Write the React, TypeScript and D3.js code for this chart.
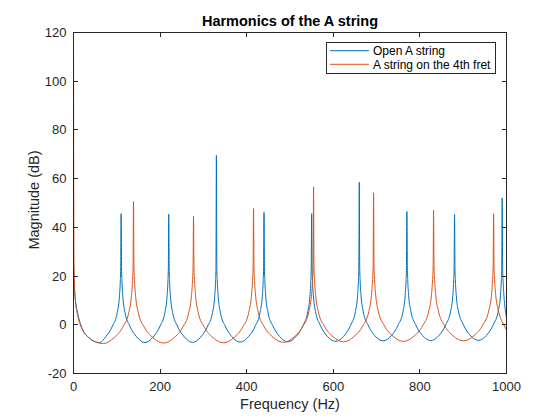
import React from 'react';
import * as d3 from 'd3';

// [frequency (Hz), magnitude (dB)]
const openString: [number, number][] = [
  [0, 25], [1, 18], [4, 11], [10, 4.5], [19, -1], [35, -5.2], [61, -7.3],
  [74, -5], [90, -0.5], [101, 5], [106, 11.5], [108, 17.5], [109, 23], [110, 45.6],
  [111, 23], [112, 17.5], [114, 11.5], [119, 5], [130, -0.5], [146, -5], [165, -7.3],
  [184, -5], [200, -0.5], [211, 5], [216, 11.5], [218, 17.5], [219, 23], [220, 45.4],
  [221, 23], [222, 17.5], [224, 11.5], [229, 5], [240, -0.5], [256, -5], [275, -7.2],
  [294, -5], [310, -0.5], [321, 5], [326, 11.5], [328, 17.5], [329, 23], [330, 69.6],
  [331, 23.5], [332, 18], [334, 12], [339, 5.2], [350, -0.4], [366, -4.9], [385, -7.1],
  [404, -4.9], [420, -0.4], [431, 5.2], [436, 11.6], [438, 17.6], [439, 23], [440, 46.1],
  [441, 23], [442, 17.6], [444, 11.6], [449, 5.2], [460, -0.3], [476, -4.8], [495, -7.0],
  [514, -4.8], [530, -0.3], [541, 5.3], [546, 11.7], [548, 17.7], [549, 23.2], [550, 45.6],
  [551, 23.5], [552, 18], [554, 12], [559, 5.4], [570, -0.2], [586, -4.7], [605, -6.8],
  [624, -4.7], [640, -0.2], [651, 5.4], [656, 11.8], [658, 17.8], [659, 23.5], [660, 58.5],
  [661, 23.5], [662, 18], [664, 12], [669, 5.5], [680, 0], [696, -4.5], [715, -6.6],
  [734, -4.5], [750, 0], [761, 5.5], [766, 12], [768, 18], [769, 23.5], [770, 46.5],
  [771, 23.5], [772, 18], [774, 12], [779, 5.6], [790, 0.1], [806, -4.4], [825, -6.5],
  [844, -4.4], [860, 0.1], [871, 5.6], [876, 12], [878, 18], [879, 23.5], [880, 45.3],
  [881, 23.5], [882, 18], [884, 12], [889, 5.7], [900, 0.2], [916, -4.3], [935, -6.4],
  [954, -4.3], [970, 0.2], [981, 5.7], [986, 12], [988, 18], [989, 23.5], [990, 52.1],
  [991, 24], [992, 18.5], [994, 12.2], [1000, 3],
];

const frettedString: [number, number][] = [
  [0, 119], [0.5, 60], [1, 28], [2, 19], [4, 10.5], [10, 3.5], [19, -1.5], [35, -5.3], [50, -7.0], [69.3, -7.7],
  [93.6, -5.3], [113.6, -1], [127.6, 5], [133.6, 11.5], [136.1, 17.5], [137.6, 24], [138.6, 50.6],
  [139.6, 24], [141.1, 17.5], [143.6, 11.5], [149.6, 5], [163.6, -1], [183.6, -5.3], [207.9, -7.5],
  [232.2, -5.3], [252.2, -1], [266.2, 5], [272.2, 11.5], [274.7, 17.5], [276.2, 24], [277.2, 44.6],
  [278.2, 24], [279.7, 17.5], [282.2, 11.5], [288.2, 5], [302.2, -1], [322.2, -5.3], [346.5, -7.4],
  [370.8, -5.2], [390.8, -0.9], [404.8, 5.1], [410.8, 11.6], [413.3, 17.6], [414.8, 24], [415.8, 47.7],
  [416.8, 24], [418.3, 17.6], [420.8, 11.6], [426.8, 5.1], [440.8, -0.9], [460.8, -5.1], [485.1, -7.2],
  [509.4, -5.0], [529.4, -0.7], [543.4, 5.3], [549.4, 11.7], [551.9, 17.7], [553.4, 24], [554.4, 56.6],
  [555.4, 24.2], [556.9, 17.8], [559.4, 11.8], [565.4, 5.4], [579.4, -0.6], [599.4, -4.9], [623.7, -7.0],
  [648, -4.8], [668, -0.5], [682, 5.5], [688, 12], [690.5, 18], [692, 24.2], [693, 54.2],
  [694, 24.2], [695.5, 18], [698, 12], [704, 5.6], [718, -0.4], [738, -4.7], [762.3, -6.8],
  [786.6, -4.6], [806.6, -0.3], [820.6, 5.7], [826.6, 12], [829.1, 18], [830.6, 24.3], [831.6, 47.0],
  [832.6, 24.3], [834.1, 18], [836.6, 12], [842.6, 5.8], [856.6, -0.2], [876.6, -4.5], [900.9, -6.6],
  [925.2, -4.4], [945.2, -0.1], [959.2, 5.9], [965.2, 12.1], [967.7, 18], [969.2, 24.4], [970.2, 45.6],
  [971.2, 24.4], [972.7, 18], [975.2, 12.1], [981.2, 5.9], [995.2, -0.5], [1000, -2.2],
];

const xTicks = [0, 200, 400, 600, 800, 1000];
const yTicks = [-20, 0, 20, 40, 60, 80, 100, 120];
const seriesNames = ['Open A string', 'A string on the 4th fret'];
const seriesColors = ['#0072BD', '#D95319'];

const App: React.FC = () => {
  const width = 560;
  const height = 420;
  const plot = { left: 73.5, right: 506.5, top: 32.5, bottom: 373.5 };
  const font = '"Liberation Sans", Arial, Helvetica, sans-serif';
  const axisColor = '#262626';
  const tickLen = 4.5;

  const x = d3.scaleLinear().domain([0, 1000]).range([plot.left, plot.right]);
  const y = d3.scaleLinear().domain([-20, 120]).range([plot.bottom, plot.top]);

  const line = d3.line<[number, number]>()
    .x(d => x(d[0]))
    .y(d => y(d[1]))
    .curve(d3.curveMonotoneX);

  const series = [openString, frettedString];

  // legend box
  const lg = { x: 326.5, y: 42.5, w: 169, h: 31 };

  return (
    <div style={{ position: 'absolute', left: 0, top: 0, width, height, background: '#fff' }}>
      <svg width={width} height={height} viewBox={`0 0 ${width} ${height}`} style={{ display: 'block' }}>
        <defs>
          <clipPath id="plot-clip">
            <rect x={plot.left} y={plot.top} width={plot.right - plot.left} height={plot.bottom - plot.top} />
          </clipPath>
        </defs>
        <rect x={0} y={0} width={width} height={height} fill="#fff" />

        <g clipPath="url(#plot-clip)">
          {series.map((s, i) => (
            <path key={i} d={line(s) || ''} fill="none" stroke={seriesColors[i]} strokeWidth={1} strokeLinejoin="round" />
          ))}
        </g>

        {/* box and ticks */}
        <g stroke={axisColor} strokeWidth={1} fill="none" shapeRendering="crispEdges">
          <rect x={plot.left} y={plot.top} width={plot.right - plot.left} height={plot.bottom - plot.top} />
          {xTicks.map(t => (
            <g key={`xt${t}`}>
              <line x1={x(t)} x2={x(t)} y1={plot.bottom} y2={plot.bottom - tickLen} />
              <line x1={x(t)} x2={x(t)} y1={plot.top} y2={plot.top + tickLen} />
            </g>
          ))}
          {yTicks.map(t => (
            <g key={`yt${t}`}>
              <line x1={plot.left} x2={plot.left + tickLen} y1={y(t)} y2={y(t)} />
              <line x1={plot.right} x2={plot.right - tickLen} y1={y(t)} y2={y(t)} />
            </g>
          ))}
        </g>

        <g fontFamily={font} fontSize={13} fill={axisColor}>
          {xTicks.map(t => (
            <text key={`xl${t}`} x={x(t)} y={390.5} textAnchor="middle">{t}</text>
          ))}
          {yTicks.map(t => (
            <text key={`yl${t}`} x={66.5} y={y(t)} textAnchor="end" dy="0.35em">{t}</text>
          ))}
        </g>

        <text x={(plot.left + plot.right) / 2} y={408.5} textAnchor="middle" fontFamily={font} fontSize={14.5} fill={axisColor}>
          Frequency (Hz)
        </text>
        <text
          transform={`translate(39,${(plot.top + plot.bottom) / 2 - 3}) rotate(-90)`}
          textAnchor="middle"
          fontFamily={font}
          fontSize={14.5}
          fill={axisColor}
        >
          Magnitude (dB)
        </text>
        <text x={(plot.left + plot.right) / 2} y={25.7} textAnchor="middle" fontFamily={font} fontSize={14.5} fontWeight="bold" fill="#000">
          Harmonics of the A string
        </text>

        {/* legend */}
        <g>
          <rect x={lg.x} y={lg.y} width={lg.w} height={lg.h} fill="#fff" stroke={axisColor} strokeWidth={1} shapeRendering="crispEdges" />
          {seriesNames.map((name, i) => {
            const ry = 50.7 + i * 13.6;
            return (
              <g key={name}>
                <line x1={330} x2={369} y1={ry} y2={ry} stroke={seriesColors[i]} strokeWidth={1} />
                <text x={373} y={ry} dy="0.35em" fontFamily={font} fontSize={12} fill="#000">{name}</text>
              </g>
            );
          })}
        </g>
      </svg>
    </div>
  );
};

export default App;
